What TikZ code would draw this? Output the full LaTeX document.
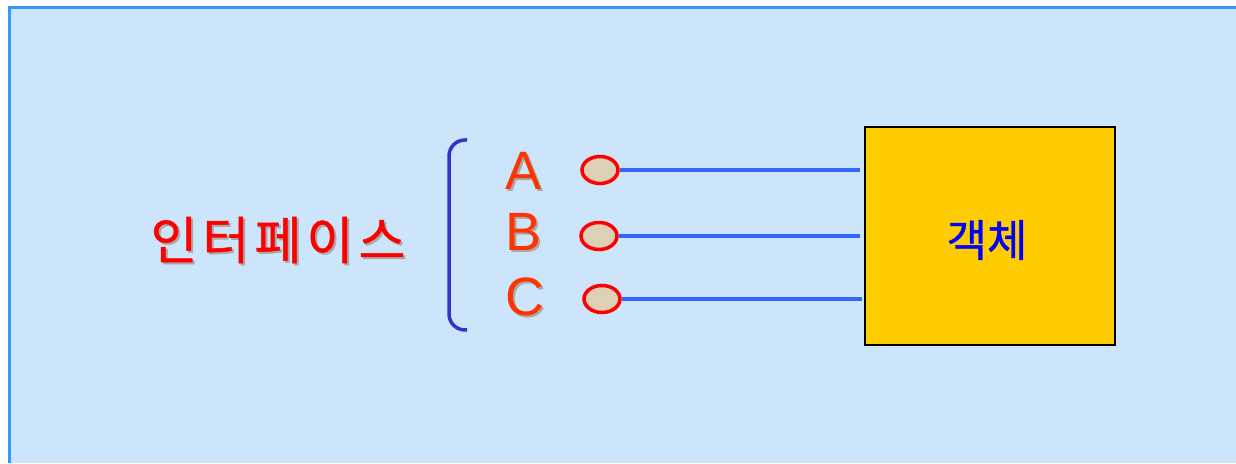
\documentclass[tikz,border=0pt]{standalone}
\usepackage{fontspec}
\setmainfont{Liberation Sans}
\newfontfamily\kr{Noto Sans CJK KR}[FakeBold=0.9]
\definecolor{panel}{HTML}{CCE5FB}
\definecolor{panelline}{HTML}{3399FF}
\definecolor{bracecol}{HTML}{3333CC}
\definecolor{wire}{HTML}{3366FF}
\definecolor{letter}{HTML}{FF3300}
\definecolor{port}{HTML}{DCD0B6}
\definecolor{objfill}{HTML}{FFCC00}
\definecolor{shade}{HTML}{A8A8A8}
\tikzset{
  portdot/.style={ellipse, draw=red, line width=3.5pt, fill=port, minimum width=36pt, minimum height=27pt, inner sep=0pt},
  wireline/.style={wire, line width=3.5pt},
  letterlbl/.style={text=letter, font=\fontsize{54}{54}\selectfont, inner sep=0pt},
  lettershade/.style={text=shade, font=\fontsize{54}{54}\selectfont, inner sep=0pt},
  krlbl/.style={font=\kr\fontsize{44}{44}\selectfont, inner sep=0pt},
  ifacelbl/.style={font=\kr\addfontfeature{LetterSpace=10}\fontsize{51}{51}\selectfont, inner sep=0pt},
}
\usetikzlibrary{shapes.geometric}
\begin{document}
\begin{tikzpicture}[x=1pt,y=1pt]
\useasboundingbox (0,0) rectangle (1236,463);
% panel
\fill[white] (0,0) rectangle (1236,463);
\fill[panel] (8,0) rectangle (1236,456);
\draw[panelline, line width=3pt] (9,0) -- (9,455.5) -- (1236,455.5);

% interface label with shadow
\node[ifacelbl, text=shade] at (280,221) {인터페이스};
\node[ifacelbl, text=red] (iface) at (278,223) {인터페이스};

% bracket
\draw[bracecol, line width=3.5pt, rounded corners=16pt] (467,323) -- (449,323) -- (449,133) -- (467,133);

% letters
\node[lettershade] at (526,290) {A};
\node[letterlbl] (la) at (524,292) {A};
\node[lettershade] at (526,229) {B};
\node[letterlbl] (lb) at (524,231) {B};
\node[lettershade] at (527,164) {C};
\node[letterlbl] (lc) at (525,166) {C};

% ports
\node[portdot] (pa) at (600,293) {};
\node[portdot] (pb) at (599,227) {};
\node[portdot] (pc) at (602,164) {};

% object box
\node[draw=black, line width=2pt, fill=objfill, minimum width=250pt, minimum height=218pt, anchor=north west, inner sep=0pt] (obj) at (864,337) {};
\node[krlbl, text=blue] (objlbl) at (987,223) {객체};

% wires
\draw[wireline] (pa.east) -- ([xshift=-4pt]obj.west |- pa.east);
\draw[wireline] (pb.east) -- ([xshift=-4pt]obj.west |- pb.east);
\draw[wireline] (pc.east) -- ([xshift=-2pt]obj.west |- pc.east);
\end{tikzpicture}
\end{document}
